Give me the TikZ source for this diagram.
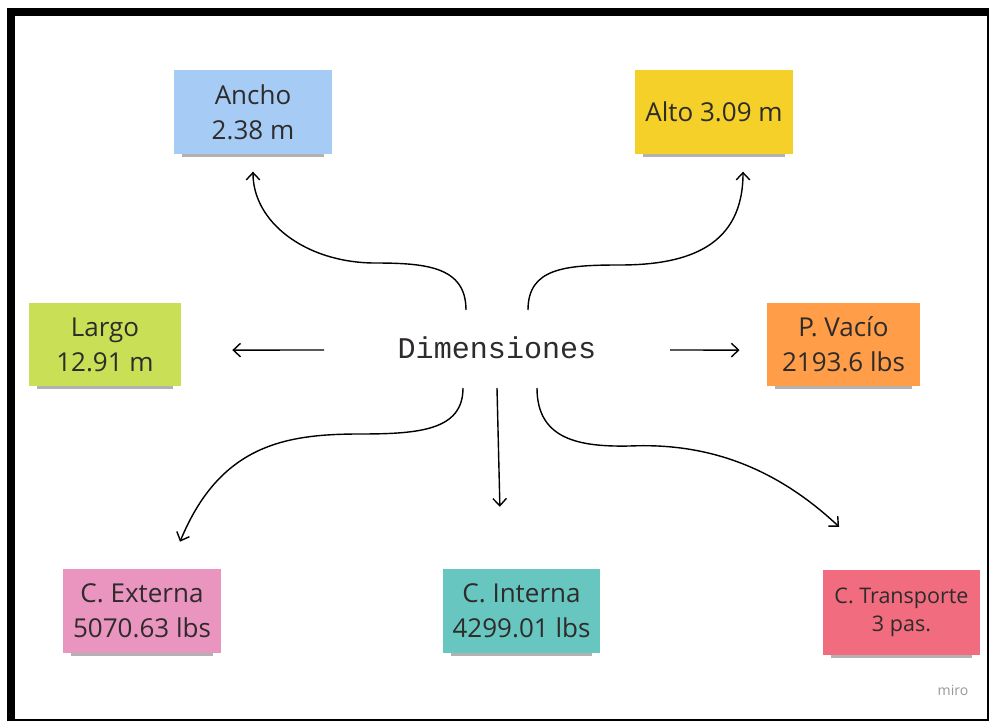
\documentclass[tikz,border=0pt]{standalone}
\usepackage{fontspec}
\setmainfont{Open Sans}
\newfontfamily\dimfont{Liberation Mono}
\usetikzlibrary{arrows.meta,shadows}
\definecolor{noteblue}{HTML}{A6CCF5}
\definecolor{noteyellow}{HTML}{F5D028}
\definecolor{notelime}{HTML}{C9DF56}
\definecolor{noteorange}{HTML}{FF9D48}
\definecolor{notepink}{HTML}{EA94C0}
\definecolor{noteteal}{HTML}{67C6C0}
\definecolor{notered}{HTML}{F16C7F}
\definecolor{notetext}{HTML}{2E2B2B}
\tikzstyle{note} = [inner sep=2pt, align=center, minimum width=3.93cm,
  minimum height=2.12cm, text=notetext, font=\fontsize{18.5}{25}\selectfont,
  drop shadow={shadow xshift=0pt, shadow yshift=-0.2cm, shadow scale=0.9,
  opacity=0.3, fill=black}]
\tikzstyle{link} = [line width=1pt, -{Straight Barb[length=1.8mm,width=3.4mm]}]

\begin{document}
\begin{tikzpicture}[x=0.025cm, y=-0.025cm]
    \useasboundingbox (0,0) rectangle (989,721);
    \fill[white] (0,0) rectangle (989,721);
    \fill[black] (7,8) rectangle (989,721);
    \fill[white] (15,16) rectangle (987,719);

    \node[note,fill=noteblue] (ancho) at (253,112) {Ancho\\2.38 m};
    \node[note,fill=noteyellow] (alto) at (714,112) {Alto 3.09 m};
    \node[note,fill=notelime,minimum width=3.8cm,minimum height=2.08cm]
        (largo) at (105,344.5) {Largo\\12.91 m};
    \node[note,fill=noteorange,minimum width=3.83cm,minimum height=2.08cm]
        (vacio) at (843.5,344.5) {P. Vacío\\2193.6 lbs};
    \node[note,fill=notepink,minimum height=2.1cm] (externa) at (142,611)
        {C. Externa\\5070.63 lbs};
    \node[note,fill=noteteal,minimum height=2.1cm] (interna) at (521.5,611)
        {C. Interna\\4299.01 lbs};
    \node[note,fill=notered,font=\fontsize{15.3}{19.5}\selectfont]
        (transporte) at (901.5,612.5) {C. Transporte\\3 pas.};

    \node[text=notetext,font=\dimfont\fontsize{21.4}{26}\selectfont]
        (dim) at (497,348) {Dimensiones};
    \node[text=black!40,font=\fontsize{10}{12}\selectfont] (miro) at (953,690) {miro};

    \coordinate (sAncho) at (466,310);
    \coordinate (sAlto) at (528,310);
    \coordinate (sLargo) at (324,350);
    \coordinate (sVacio) at (670,350);
    \coordinate (sExterna) at (463,388);
    \coordinate (sInterna) at (497,388);
    \coordinate (sTransporte) at (537,388);
    \coordinate (tAncho) at ([yshift=-4.25mm]ancho.south);
    \coordinate (tAlto) at ([xshift=7.25mm,yshift=-4.25mm]alto.south);
    \coordinate (tLargo) at ([xshift=12.75mm,yshift=-1.4mm]largo.east);
    \coordinate (tVacio) at ([xshift=-6.75mm,yshift=-1.4mm]vacio.west);
    \coordinate (tExterna) at ([xshift=9.5mm,yshift=6.75mm]externa.north);
    \coordinate (tInterna) at ([xshift=-5.4mm,yshift=15.5mm]interna.north);
    \coordinate (tTransporte) at ([xshift=-15.6mm,yshift=10.75mm]transporte.north);

    \draw[link] (sAncho) .. controls (466,266) and (425,263) .. (373,263)
        .. controls (305,262) and (253,222) .. (tAncho);
    \draw[link] (sAlto) .. controls (528,268) and (565,265) .. (620,265)
        .. controls (690,265) and (743,245) .. (tAlto);
    \draw[link] (sLargo) -- (tLargo);
    \draw[link] (sVacio) -- (tVacio);
    \draw[link] (sExterna) .. controls (463,430) and (420,434) .. (360,434)
        .. controls (285,434) and (220,445) .. (tExterna);
    \draw[link] (sInterna) -- (tInterna);
    \draw[link] (sTransporte) .. controls (537,440) and (580,447) .. (630,446)
        .. controls (700,443) and (770,462) .. (tTransporte);
\end{tikzpicture}
\end{document}
